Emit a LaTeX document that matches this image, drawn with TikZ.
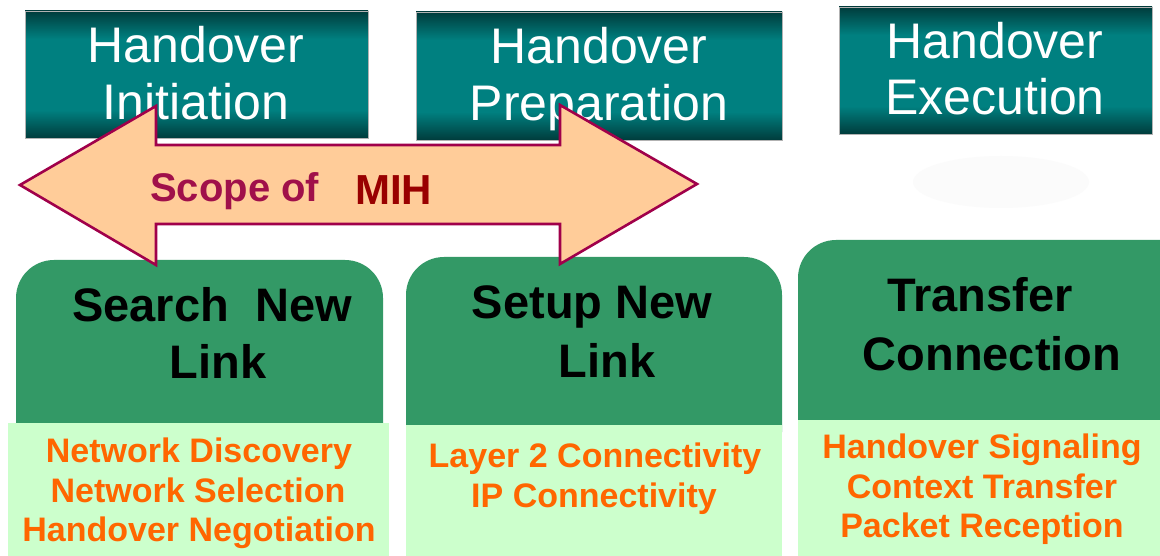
\documentclass[tikz,border=0pt]{standalone}
\usepackage{fontspec}
\setmainfont{Liberation Sans}
\definecolor{hdark}{HTML}{003C3C}
\definecolor{hmid}{HTML}{008080}
\definecolor{grn}{HTML}{339966}
\definecolor{lgrn}{HTML}{CCFFCC}
\definecolor{orng}{HTML}{FF6600}
\definecolor{peach}{HTML}{FFCC99}
\definecolor{arrline}{HTML}{A0004A}
\definecolor{scopec}{HTML}{A0104A}
\definecolor{mihc}{HTML}{990000}
\pgfdeclareverticalshading{hdrshade}{100bp}{color(0bp)=(hdark); color(25bp)=(hdark); color(36bp)=(hmid); color(64bp)=(hmid); color(75bp)=(hdark); color(100bp)=(hdark)}
\begin{document}
\begin{tikzpicture}[x=1pt,y=-1pt,
  hdrbox/.style={shading=hdrshade, draw=gray!60, line width=0.8pt},
  hdrtxt/.style={anchor=base, inner sep=0, text=white, font=\fontsize{50}{57}\selectfont},
  grnbox/.style={fill=grn, rounded corners=38pt},
  lgtbox/.style={fill=lgrn},
  grntxt/.style={anchor=base, inner sep=0, text=black, font=\fontsize{47}{56}\selectfont\bfseries},
  lgttxt/.style={anchor=base, inner sep=0, text=orng, font=\fontsize{34}{39}\selectfont\bfseries},
  scopearrow/.style={fill=peach, draw=arrline, line width=2.6pt, line join=miter}]
\useasboundingbox (0,0) rectangle (1160,556);
\fill[white] (0,0) rectangle (1160,556);

% header boxes
\path[hdrbox] (25,11) rectangle (368,138);
\path[hdrbox] (416,12) rectangle (782,140);
\path[hdrbox] (839,7) rectangle (1152,134);
\node[hdrtxt] (h1a) at (196,63) {Handover};
\node[hdrtxt] (h1b) at (196,120) {Initiation};
\node[hdrtxt] (h2a) at (599,64) {Handover};
\node[hdrtxt] (h2b) at (599,121) {Preparation};
\node[hdrtxt] (h3a) at (995,59) {Handover};
\node[hdrtxt] (h3b) at (995,115) {Execution};

% faint reflection under execution header
\fill[black!1.5] (1001,182) ellipse [x radius=88, y radius=26];

% green boxes
\fill[grnbox] (16,260) rectangle (383,470);
\fill[grnbox] (406,257) rectangle (782,470);
\fill[grnbox] (798,240) rectangle (1200,470);
% light boxes
\fill[lgtbox] (8,423) rectangle (389,556);
\fill[lgtbox] (406,425) rectangle (782,556);
\fill[lgtbox] (798,420) rectangle (1160,556);

\node[grntxt] (g1a) at (212,322) {Search\ \ New};
\node[grntxt] (g1b) at (218,378) {Link};
\node[grntxt] (g2a) at (592,318) {Setup New};
\node[grntxt] (g2b) at (607,377) {Link};
\node[grntxt] (g3a) at (980,312) {Transfer};
\node[grntxt] (g3b) at (992,370) {Connection};

\node[lgttxt] (l1a) at (199,462) {Network Discovery};
\node[lgttxt] (l1b) at (198,502) {Network Selection};
\node[lgttxt] (l1c) at (199,541) {Handover Negotiation};
\node[lgttxt] (l2a) at (595,467) {Layer 2 Connectivity};
\node[lgttxt] (l2b) at (594,507) {IP Connectivity};
\node[lgttxt] (l3a) at (982,458) {Handover Signaling};
\node[lgttxt] (l3b) at (982,498) {Context Transfer};
\node[lgttxt] (l3c) at (982,537) {Packet Reception};

% scope arrow
\draw[scopearrow] (20,185) -- (156,106) -- (156,145) -- (560,145) -- (560,105)
  -- (697,184) -- (560,264) -- (560,224) -- (156,224) -- (156,265) -- cycle;
\node[anchor=base west, inner sep=0, text=scopec, font=\fontsize{40}{44}\selectfont\bfseries] (scope) at (150,202) {Scope of};
\node[anchor=base west, inner sep=0, text=mihc, font=\fontsize{42}{48}\selectfont\bfseries] (mih) at (355,205) {MIH};
\end{tikzpicture}
\end{document}
